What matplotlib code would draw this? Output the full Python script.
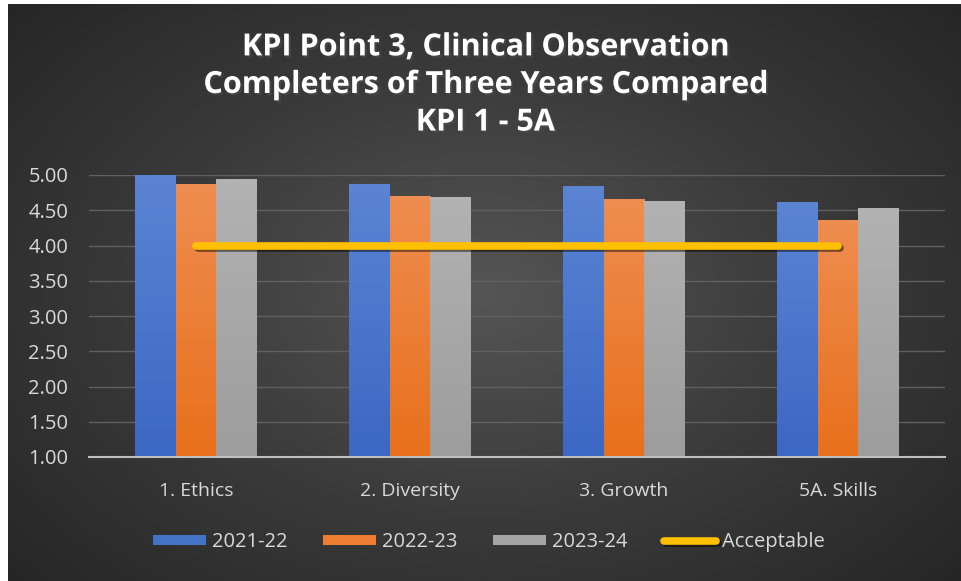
import numpy as np
import matplotlib
matplotlib.use('Agg')
import matplotlib.pyplot as plt
import matplotlib.patheffects as pe
from matplotlib.colors import LinearSegmentedColormap

categories = ['1. Ethics', '2. Diversity', '3. Growth', '5A. Skills']
years = ['2021-22', '2022-23', '2023-24']
vals2122 = [5.00, 4.87, 4.83, 4.61]
vals2223 = [4.87, 4.70, 4.65, 4.36]
vals2324 = [4.94, 4.68, 4.63, 4.52]
acceptable = [4.00, 4.00, 4.00, 4.00]

title = 'KPI Point 3, Clinical Observation\nCompleters of Three Years Compared\nKPI 1 - 5A'

# (top, bottom) gradient colours per series
bar_colors = [('#5b84d3', '#3b68c4'), ('#ef8d50', '#e8701c'), ('#b2b2b2', '#9d9d9d')]
solid_colors = ['#4472c4', '#ed7d31', '#a5a5a5']
line_color = '#ffc000'
text_color = '#d9d9d9'

plt.rcParams['font.family'] = ['Open Sans', 'DejaVu Sans']

fig = plt.figure(figsize=(9.62, 5.81), dpi=100)
fig.patch.set_facecolor('white')

# dark radial background, inset a little from left/top like the screenshot
bg = fig.add_axes([8 / 962, 0, 954 / 962, 577 / 581])
bg.set_axis_off()
yy, xx = np.mgrid[-1:1:300j, -1:1:400j]
r = np.sqrt(xx ** 2 + (yy * 0.9) ** 2)
bgmap = LinearSegmentedColormap.from_list('bg', ['#555555', '#3b3b3b', '#262626'])
bg.imshow(r, cmap=bgmap, aspect='auto', extent=[0, 1, 0, 1], vmin=0, vmax=1.35)
bg.set_xlim(0, 1)
bg.set_ylim(0, 1)

ax = fig.add_axes([89 / 962, 124 / 581, 856 / 962, 282 / 581])
ax.patch.set_alpha(0)

x = np.arange(len(categories))
width = 0.19
series = [vals2122, vals2223, vals2324]
handles = []
for i, vals in enumerate(series):
    bars = ax.bar(x + (i - 1) * width, [v - 1 for v in vals], width, bottom=1,
                  color=solid_colors[i], label=years[i], zorder=2, clip_on=False)
    handles.append(bars)
    cmap = LinearSegmentedColormap.from_list('g%d' % i, [bar_colors[i][1], bar_colors[i][0]])
    for b in bars:
        x0, y0 = b.get_xy()
        grad = np.linspace(0, 1, 64).reshape(-1, 1)
        ax.imshow(grad, cmap=cmap, origin='lower', aspect='auto', zorder=2.5,
                  extent=[x0, x0 + b.get_width(), y0, y0 + b.get_height()], clip_on=False)

line, = ax.plot(x, acceptable, color=line_color, lw=5.5, solid_capstyle='round', zorder=4,
                label='Acceptable',
                path_effects=[pe.SimpleLineShadow(offset=(1.5, -1.5), alpha=0.5), pe.Normal()])
handles.append(line)

ax.set_xlim(-0.5, len(categories) - 0.5)
ax.set_ylim(1, 5)
ax.set_aspect('auto')
ax.set_yticks(np.arange(1, 5.01, 0.5))
ax.set_yticklabels(['%.2f' % v for v in np.arange(1, 5.01, 0.5)])
ax.set_xticks(x)
ax.set_xticklabels(categories)
ax.tick_params(axis='both', length=0, colors=text_color)
ax.tick_params(axis='y', pad=15, labelsize=14.5)
ax.tick_params(axis='x', pad=18, labelsize=14)
ax.yaxis.grid(True, color='#606060', lw=1, zorder=1)
ax.set_axisbelow(True)
for s in ['top', 'right', 'left']:
    ax.spines[s].set_visible(False)
ax.spines['bottom'].set_color('#bfbfbf')
ax.spines['bottom'].set_linewidth(1.5)
ax.spines['bottom'].set_zorder(3)

fig.text(485 / 962, 1 - 85 / 581, title, ha='center', va='center', color='white',
         fontsize=22, fontweight='bold', linespacing=1.33,
         path_effects=[pe.withSimplePatchShadow(offset=(1.5, -1.5), alpha=0.6)])

leg = ax.legend(handles=handles, labels=years + ['Acceptable'], loc='center',
                bbox_to_anchor=(489 / 962, 1 - 542 / 581),
                bbox_transform=fig.transFigure, ncol=4, frameon=False,
                fontsize=14.5, handlelength=2.6, handleheight=0.4,
                handletextpad=0.3, columnspacing=1.8)
for t in leg.get_texts():
    t.set_color(text_color)

fig.savefig('out.png', dpi=100, facecolor=fig.get_facecolor())
